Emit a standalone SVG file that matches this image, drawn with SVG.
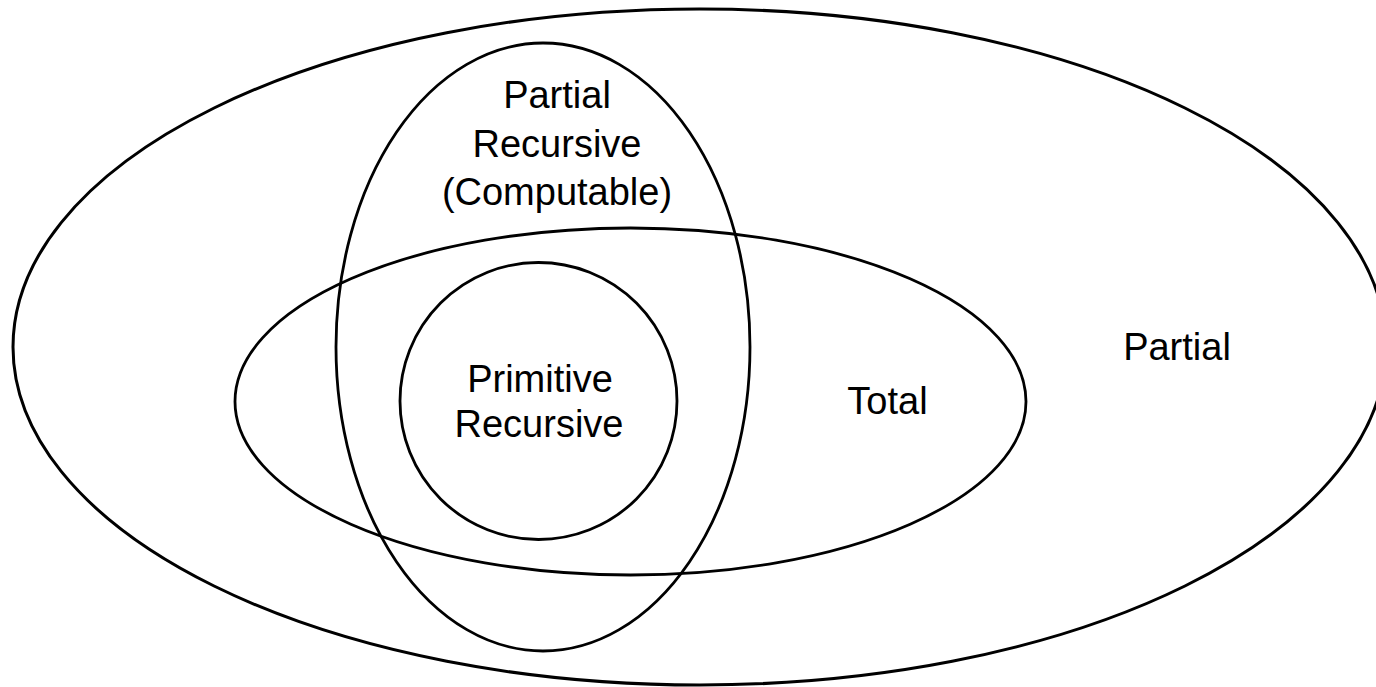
<svg xmlns="http://www.w3.org/2000/svg" width="1376" height="687" viewBox="0 0 1376 687">
  <style>
    .set { fill: none; stroke: #000; stroke-width: 2.8; }
    .outer { stroke-width: 3; }
    .lbl { font-family: "Liberation Sans", Arial, Helvetica, sans-serif; font-size: 38px; fill: #000; text-anchor: middle; }
  </style>
  <rect width="1376" height="687" fill="#fff"/>
  <g id="partial">
    <ellipse class="set outer" cx="699.5" cy="347" rx="686.5" ry="338"/>
    <text class="lbl" x="1177" y="360">Partial</text>
  </g>
  <g id="total">
    <ellipse class="set" cx="630.5" cy="401.5" rx="395.5" ry="173.5"/>
    <text class="lbl" x="887.5" y="414">Total</text>
  </g>
  <g id="partial-recursive">
    <ellipse class="set" cx="543" cy="347" rx="207" ry="304"/>
    <text class="lbl" x="557" y="108">Partial</text>
    <text class="lbl" x="557" y="157">Recursive</text>
    <text class="lbl" x="557" y="205">(Computable)</text>
  </g>
  <g id="primitive-recursive">
    <circle class="set" cx="538.5" cy="401" r="138.5"/>
    <text class="lbl" x="540" y="392">Primitive</text>
    <text class="lbl" x="539" y="437">Recursive</text>
  </g>
  <g id="connectors"/>
</svg>
